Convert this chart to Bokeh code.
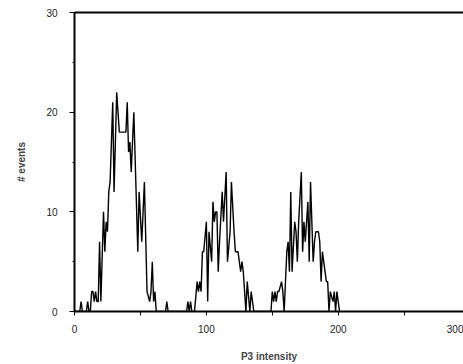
from bokeh.plotting import figure
from bokeh.models import Range1d, FixedTicker, LinearAxis
from bokeh.embed import file_html
from bokeh.resources import INLINE

# P3 intensity (bin position) and number of events
intensity = [0, 4, 5, 6, 9, 10, 11, 12, 13, 14, 15, 16, 17, 18, 19, 20, 22, 23, 24, 25,
             26, 27, 29, 30, 32, 34, 39, 40, 41, 42, 43, 45, 48, 49, 51, 53, 55, 57, 58, 59,
             60, 61, 62, 69, 70, 71, 85, 86, 87, 88, 89, 91, 93, 94, 95, 96, 97, 98, 100, 101,
             102, 104, 105, 106, 107, 108, 109, 110, 112, 113, 115, 116, 118, 119, 121, 122, 123, 124, 126, 127,
             128, 130, 131, 133, 134, 136, 149, 150, 151, 152, 153, 154, 155, 157, 158, 159, 161, 162, 163, 164,
             165, 167, 168, 169, 170, 172, 173, 174, 175, 177, 178, 179, 181, 182, 183, 185, 186, 187, 188, 189,
             191, 192, 193, 194, 196, 197, 198, 199, 201]
events = [0, 0, 1, 0, 0, 1, 0, 0, 2, 2, 1, 2, 1, 1, 7, 1, 10, 6, 9, 8,
          12, 13, 21, 12, 22, 18, 18, 21, 16, 17, 14, 20, 6, 12, 7, 13, 2, 1, 2, 5,
          1, 2, 0, 0, 1, 0, 0, 1, 0, 1, 0, 0, 3, 2, 3, 2, 6, 6, 9, 1,
          8, 5, 11, 9, 10, 10, 4, 7, 12, 9, 14, 5, 8, 13, 8, 6, 6, 6, 4, 5,
          4, 0, 3, 0, 2, 0, 0, 2, 1, 2, 1, 2, 2, 3, 2, 0, 6, 7, 4, 12,
          4, 9, 8, 5, 9, 14, 6, 9, 7, 11, 5, 13, 5, 7, 8, 8, 7, 3, 6, 5,
          3, 3, 0, 2, 1, 2, 0, 2, 0]

x_ticks = [0, 100, 200, 300]
x_minor = [50, 150, 250]
y_ticks = [0, 10, 20, 30]
y_minor = [5, 15, 25]
x_end = 295  # visible part of the axis (the 300 end is cut by the picture edge)

FONT = "Liberation Sans"

p = figure(width=463, height=364, output_backend="svg", toolbar_location=None,
           x_range=Range1d(0, x_end), y_range=Range1d(0, 30),
           min_border_left=74, min_border_right=0, min_border_top=12, min_border_bottom=53)
p.outline_line_color = None
p.xgrid.visible = False
p.ygrid.visible = False
p.background_fill_color = "white"
p.border_fill_color = "white"

p.line(intensity, events, line_color="black", line_width=1.4)

xa = p.xaxis[0]
shown = [t for t in x_ticks if t <= x_end]
xa.ticker = FixedTicker(ticks=shown + [x_end], minor_ticks=x_minor)
xa.major_label_overrides = {x_end: str(x_ticks[-1])}
xa.axis_line_width = 2
xa.major_tick_out = 4
xa.major_tick_in = 0
xa.minor_tick_out = 4
xa.minor_tick_in = 0
xa.major_tick_line_width = 1
xa.minor_tick_line_width = 1
xa.major_label_text_font = FONT
xa.major_label_text_font_size = "10px"
xa.major_label_text_color = "#222222"
xa.major_label_standoff = 9
xa.axis_label = "P3 intensity"
xa.axis_label_text_font = FONT
xa.axis_label_text_font_style = "bold"
xa.axis_label_text_font_size = "10px"
xa.axis_label_standoff = 15

ya = p.yaxis[0]
ya.ticker = FixedTicker(ticks=y_ticks, minor_ticks=y_minor)
ya.axis_line_width = 2
ya.major_tick_out = 5
ya.major_tick_in = 0
ya.minor_tick_out = 2
ya.minor_tick_in = 0
ya.major_tick_line_width = 1
ya.minor_tick_line_width = 1
ya.major_label_text_font = FONT
ya.major_label_text_font_size = "10px"
ya.major_label_text_color = "#222222"
ya.major_label_standoff = 12
ya.axis_label = "# events"
ya.axis_label_text_font = FONT
ya.axis_label_text_font_style = "bold"
ya.axis_label_text_font_size = "10px"
ya.axis_label_standoff = 16

top = LinearAxis(ticker=FixedTicker(ticks=[]), major_label_text_font_size="0px",
                 major_tick_line_color=None, minor_tick_line_color=None, axis_line_width=2)
p.add_layout(top, "above")

open("out.html", "w").write(file_html(p, INLINE))
